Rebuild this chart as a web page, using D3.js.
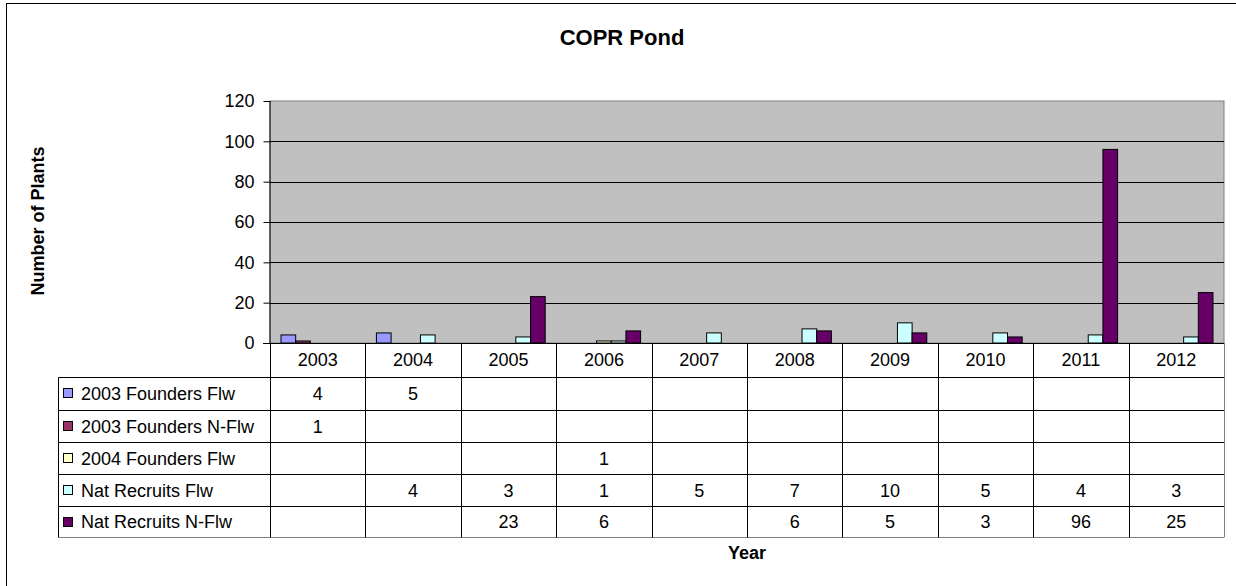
<!DOCTYPE html>
<html><head><meta charset="utf-8">
<script src="https://cdn.jsdelivr.net/npm/d3@7"></script>
<style>
html,body{margin:0;padding:0;background:#fff;}
svg{display:block;font-family:"Liberation Sans",Arial,sans-serif;}
</style></head>
<body>
<svg id="c" width="1236" height="586"></svg>
<script>
const years = ["2003","2004","2005","2006","2007","2008","2009","2010","2011","2012"];
const seriesNames = ["2003 Founders Flw","2003 Founders N-Flw","2004 Founders Flw","Nat Recruits Flw","Nat Recruits N-Flw"];
const seriesColors = ["#9999FF","#993366","#FFFFCC","#CCFFFF","#660066"];
const founders2003Flw  = [4,5,null,null,null,null,null,null,null,null];
const founders2003NFlw = [1,null,null,null,null,null,null,null,null,null];
const founders2004Flw  = [null,null,null,1,null,null,null,null,null,null];
const natRecruitsFlw   = [null,4,3,1,5,7,10,5,4,3];
const natRecruitsNFlw  = [null,null,23,6,null,6,5,3,96,25];
const yTicks = [0,20,40,60,80,100,120];
const seriesValues = [founders2003Flw, founders2003NFlw, founders2004Flw, natRecruitsFlw, natRecruitsNFlw];

const svg = d3.select("#c");
const L = 270, R = 1224, T = 101, B = 343;
const rowH = [343.3, 376.7, 410, 442.3, 474.3, 506.3, 537];
const fs = 18;

// outer frame
svg.append("rect").attr("x",6.5).attr("y",3.5).attr("width",1400).attr("height",800)
  .attr("fill","#fff").attr("stroke","#000").attr("stroke-width",1);

// title
svg.append("text").attr("x",622).attr("y",45).attr("text-anchor","middle")
  .attr("font-weight","bold").attr("font-size",22).text("COPR Pond");

const x0 = d3.scaleBand().domain(years).range([L,R]).padding(0);
const x1 = d3.scaleBand().domain(seriesNames).range([0,x0.bandwidth()]).paddingInner(0).paddingOuter(0.75);
const y = d3.scaleLinear().domain([0,120]).range([B,T]);

// plot area
svg.append("rect").attr("x",L).attr("y",y(120)).attr("width",R-L).attr("height",y(0)-y(120))
  .attr("fill","#C0C0C0").attr("stroke","#808080").attr("stroke-width",1);

// gridlines
svg.append("g").selectAll("line").data(yTicks.filter(d=>d>0&&d<120)).join("line")
  .attr("x1",L).attr("x2",R).attr("y1",d=>Math.round(y(d))+0.5).attr("y2",d=>Math.round(y(d))+0.5)
  .attr("stroke","#000").attr("stroke-width",1);

// bars
seriesValues.forEach((vals,si)=>{
  svg.append("g").selectAll("rect").data(years.map((yr,i)=>({yr,v:vals[i]})).filter(d=>d.v!=null)).join("rect")
    .attr("x",d=>x0(d.yr)+x1(seriesNames[si]))
    .attr("y",d=>y(d.v))
    .attr("width",x1.bandwidth())
    .attr("height",d=>y(0)-y(d.v))
    .attr("fill",seriesColors[si]).attr("stroke","#000").attr("stroke-width",1);
});

// y axis
const yAxis = d3.axisLeft(y).tickValues(yTicks).tickSize(7).tickPadding(9);
const ga = svg.append("g").attr("transform",`translate(${L+0.5},0)`).call(yAxis);
ga.select(".domain").attr("stroke","#000").attr("d",`M-0.5,${T}V${B}`);
ga.selectAll(".tick line").attr("stroke","#000");
ga.selectAll("text").attr("font-size",fs).attr("font-family","Liberation Sans, Arial, sans-serif").attr("fill","#000");

// axis line (x) extending to tick
svg.append("line").attr("x1",L-7).attr("x2",R).attr("y1",B+0.5).attr("y2",B+0.5).attr("stroke","#000");

// y axis title
svg.append("text").attr("transform","translate(44,221) rotate(-90)").attr("text-anchor","middle")
  .attr("font-weight","bold").attr("font-size",fs).text("Number of Plants");

// data table
const tg = svg.append("g");
const TL = 58.5;
// horizontal lines
for (let r=1;r<rowH.length;r++){
  tg.append("line").attr("x1",TL).attr("x2",R).attr("y1",Math.round(rowH[r])+0.5).attr("y2",Math.round(rowH[r])+0.5)
    .attr("stroke", r===rowH.length-1 ? "#808080" : "#000");
}
// vertical lines at category boundaries
const bounds = years.map(d=>x0(d)).concat([R]);
bounds.forEach((bx,i)=>{
  tg.append("line").attr("x1",Math.round(bx)+0.5).attr("x2",Math.round(bx)+0.5)
    .attr("y1",B).attr("y2",Math.round(rowH[rowH.length-1])+0.5)
    .attr("stroke", i===bounds.length-1 ? "#808080" : "#000");
});
tg.append("line").attr("x1",TL).attr("x2",TL).attr("y1",Math.round(rowH[1])+0.5).attr("y2",Math.round(rowH[6])+0.5).attr("stroke","#000");

// year labels
tg.selectAll("text.yr").data(years).join("text").attr("class","yr")
  .attr("x",d=>x0(d)+x0.bandwidth()/2).attr("y",(rowH[0]+rowH[1])/2).attr("dy","0.36em")
  .attr("text-anchor","middle").attr("font-size",fs).text(d=>d);

// rows
seriesNames.forEach((name,si)=>{
  const cy = (rowH[si+1]+rowH[si+2])/2;
  tg.append("rect").attr("x",63.5).attr("y",Math.round(cy-5)+0.5).attr("width",9).attr("height",9)
    .attr("fill",seriesColors[si]).attr("stroke","#000");
  tg.append("text").attr("x",81).attr("y",cy).attr("dy","0.36em").attr("font-size",fs).text(name);
  seriesValues[si].forEach((v,i)=>{
    if (v==null) return;
    tg.append("text").attr("x",x0(years[i])+x0.bandwidth()/2).attr("y",cy).attr("dy","0.36em")
      .attr("text-anchor","middle").attr("font-size",fs).text(v);
  });
});

// x axis title
svg.append("text").attr("x",(L+R)/2).attr("y",559).attr("text-anchor","middle")
  .attr("font-weight","bold").attr("font-size",fs).text("Year");
</script>
</body></html>
